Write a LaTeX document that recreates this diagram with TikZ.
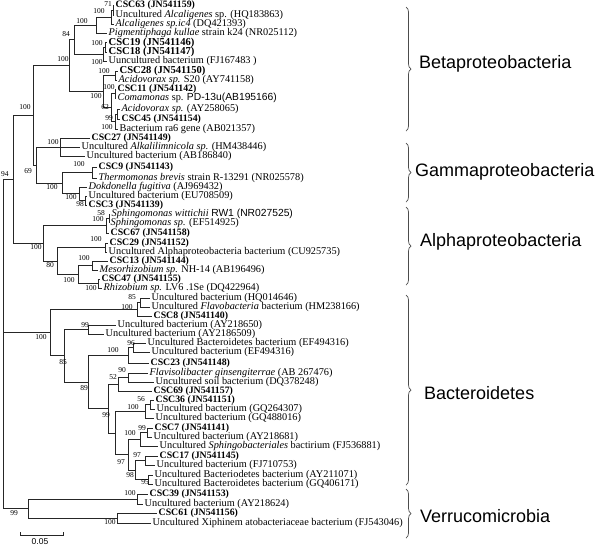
\documentclass[tikz,border=0pt]{standalone}
\usepackage{fontspec}
\setmainfont{Liberation Serif}
\setsansfont{Liberation Sans}
\usetikzlibrary{decorations.pathreplacing}
\begin{document}
\begin{tikzpicture}[x=1pt,y=-1pt,
  br/.style={line width=0.8pt, draw=black!85},
  leaf/.style={anchor=west, inner sep=0pt, xshift=1.5pt, font=\fontsize{10.3}{10}\selectfont},
  csc/.style={leaf, font=\fontsize{9.8}{10}\selectfont\bfseries},
  cscbig/.style={leaf, font=\fontsize{10.6}{11}\selectfont\bfseries},
  bs/.style={inner sep=0pt, font=\fontsize{7.5}{8}\selectfont},
  grp/.style={anchor=west, inner sep=0pt, font=\sffamily\fontsize{18}{20}\selectfont},
  grpbrace/.style={decorate, decoration={brace, amplitude=5pt}, line width=0.7pt, draw=black!70}]
\useasboundingbox[fill=white] (0,0) rectangle (600,547);

% ---------- leaves ----------
\coordinate (l1) at (114,5);    \node[csc] (t1) at (l1) {CSC63 (JN541159)};
\coordinate (l2) at (114,15);   \node[leaf] (t2) at (l2) {Uncultured \textit{Alcaligenes} sp. (HQ183863)};
\coordinate (l3) at (114,24);   \node[leaf] (t3) at (l3) {\textit{Alcaligenes sp.ic4} (DQ421393)};
\coordinate (l4) at (107,33);   \node[leaf] (t4) at (l4) {\textit{Pigmentiphaga kullae} strain k24 (NR025112)};
\coordinate (l5) at (107,42.5); \node[cscbig] (t5) at (l5) {CSC19 (JN541146)};
\coordinate (l6) at (107,52);   \node[cscbig] (t6) at (l6) {CSC18 (JN541147)};
\coordinate (l7) at (107,61);   \node[leaf] (t7) at (l7) {Uuncultured bacterium (FJ167483 )};
\coordinate (l8) at (118,71);   \node[cscbig] (t8) at (l8) {CSC28 (JN541150)};
\coordinate (l9) at (117,80);   \node[leaf] (t9) at (l9) {\textit{Acidovorax sp.} S20 (AY741158)};
\coordinate (l10) at (116,89);  \node[csc] (t10) at (l10) {CSC11 (JN541142)};
\coordinate (l11) at (116,98);  \node[leaf] (t11) at (l11) {\textit{Comamonas} sp. {\sffamily PD-13u(AB195166)}};
\coordinate (l12) at (120,109); \node[leaf] (t12) at (l12) {\textit{Acidovorax sp.} (AY258065)};
\coordinate (l13) at (120,119); \node[csc] (t13) at (l13) {CSC45 (JN541154)};
\coordinate (l14) at (118,129); \node[leaf] (t14) at (l14) {Bacterium ra6 gene (AB021357)};
\coordinate (l15) at (90,138);  \node[csc] (t15) at (l15) {CSC27 (JN541149)};
\coordinate (l16) at (80,147);  \node[leaf] (t16) at (l16) {Uncultured \textit{Alkalilimnicola sp.} (HM438446)};
\coordinate (l17) at (85,156);  \node[leaf] (t17) at (l17) {Uncultured bacterium (AB186840)};
\coordinate (l18) at (97,167);  \node[csc] (t18) at (l18) {CSC9 (JN541143)};
\coordinate (l19) at (97,178);  \node[leaf] (t19) at (l19) {\textit{Thermomonas brevis} strain R-13291 (NR025578)};
\coordinate (l20) at (87,187);  \node[leaf] (t20) at (l20) {\textit{Dokdonella fugitiva} (AJ969432)};
\coordinate (l21) at (87,196);  \node[leaf] (t21) at (l21) {Uncultured bacterium (EU708509)};
\coordinate (l22) at (87,205);  \node[csc] (t22) at (l22) {CSC3 (JN541139)};
\coordinate (l23) at (110,214); \node[leaf] (t23) at (l23) {\textit{Sphingomonas wittichii} {\sffamily RW1 (NR027525)}};
\coordinate (l24) at (109,223); \node[leaf] (t24) at (l24) {\textit{Sphingomonas sp.} (EF514925)};
\coordinate (l25) at (109,233); \node[csc] (t25) at (l25) {CSC67 (JN541158)};
\coordinate (l26) at (108,243); \node[csc] (t26) at (l26) {CSC29 (JN541152)};
\coordinate (l27) at (107,252); \node[leaf] (t27) at (l27) {Uncultured Alphaproteobacteria bacterium (CU925735)};
\coordinate (l28) at (108,261); \node[csc] (t28) at (l28) {CSC13 (JN541144)};
\coordinate (l29) at (98,270);  \node[leaf] (t29) at (l29) {\textit{Mesorhizobium sp.} NH-14 (AB196496)};
\coordinate (l30) at (100,279); \node[csc] (t30) at (l30) {CSC47 (JN541155)};
\coordinate (l31) at (102,288); \node[leaf] (t31) at (l31) {\textit{Rhizobium sp.} LV6 .1Se (DQ422964)};
\coordinate (l32) at (150,298); \node[leaf] (t32) at (l32) {Uncultured bacterium (HQ014646)};
\coordinate (l33) at (150,307); \node[leaf] (t33) at (l33) {Uncultured \textit{Flavobacteria} bacterium (HM238166)};
\coordinate (l34) at (152,316); \node[csc] (t34) at (l34) {CSC8 (JN541140)};
\coordinate (l35) at (116,325); \node[leaf] (t35) at (l35) {Uncultured bacterium (AY218650)};
\coordinate (l36) at (104,334); \node[leaf] (t36) at (l36) {Uncultured bacterium (AY2186509)};
\coordinate (l37) at (146,343); \node[leaf] (t37) at (l37) {Uncultured Bacteroidetes bacterium (EF494316)};
\coordinate (l38) at (150,352); \node[leaf] (t38) at (l38) {Uncultured bacterium (EF494316)};
\coordinate (l39) at (149,363); \node[csc] (t39) at (l39) {CSC23 (JN541148)};
\coordinate (l40) at (148,373); \node[leaf] (t40) at (l40) {\textit{Flavisolibacter ginsengiterrae} (AB 267476)};
\coordinate (l41) at (154,382); \node[leaf] (t41) at (l41) {Uncultured soil bacterium (DQ378248)};
\coordinate (l42) at (152,391); \node[csc] (t42) at (l42) {CSC69 (JN541157)};
\coordinate (l43) at (154,400); \node[csc] (t43) at (l43) {CSC36 (JN541151)};
\coordinate (l44) at (155,409); \node[leaf] (t44) at (l44) {Uncultured bacterium (GQ264307)};
\coordinate (l45) at (154,418); \node[leaf] (t45) at (l45) {Uncultured bacterium (GQ488016)};
\coordinate (l46) at (153,428); \node[csc] (t46) at (l46) {CSC7 (JN541141)};
\coordinate (l47) at (152,437); \node[leaf] (t47) at (l47) {Uncultured bacterium (AY218681)};
\coordinate (l48) at (158,446); \node[leaf] (t48) at (l48) {Uncultured \textit{Sphingobacteriales} bactirium (FJ536881)};
\coordinate (l49) at (158,456); \node[csc] (t49) at (l49) {CSC17 (JN541145)};
\coordinate (l50) at (155,465); \node[leaf] (t50) at (l50) {Uncultured bacterium (FJ710753)};
\coordinate (l51) at (153,475); \node[leaf] (t51) at (l51) {Uncultured Bacteriodetes bacterium (AY211071)};
\coordinate (l52) at (153,484); \node[leaf] (t52) at (l52) {Uncultured Bacteroidetes bacterium (GQ406171)};
\coordinate (l53) at (148,494); \node[csc] (t53) at (l53) {CSC39 (JN541153)};
\coordinate (l54) at (143,504); \node[leaf] (t54) at (l54) {Uncultured bacterium (AY218624)};
\coordinate (l55) at (157,513); \node[csc] (t55) at (l55) {CSC61 (JN541156)};
\coordinate (l56) at (151,523); \node[leaf] (t56) at (l56) {Uncultured Xiphinem atobacteriaceae bacterium (FJ543046)};

% ---------- internal nodes ----------
\coordinate (n71) at (113,10);
\coordinate (n100a1) at (111,17);
\coordinate (n100a2) at (96,25);
\coordinate (n100s1) at (105,47.25);
\coordinate (n100s) at (103,54.1);
\coordinate (n84) at (74,39.6);
\coordinate (n100x) at (115,75.5);
\coordinate (n100y) at (115,93.5);
\coordinate (n99) at (117,114);
\coordinate (n100r) at (115,121.5);
\coordinate (n62) at (111,107.5);
\coordinate (ncom) at (103,91.5);
\coordinate (n100b) at (69,65.5);
\coordinate (n100g1) at (60,147);
\coordinate (n100g2) at (92,172.5);
\coordinate (n98) at (85,200.5);
\coordinate (n100g5) at (79,193.75);
\coordinate (n100g4) at (62,183.1);
\coordinate (n69) at (36,165);
\coordinate (n100top) at (33,115.25);
\coordinate (n58) at (109,218.5);
\coordinate (n100sp) at (106,225.75);
\coordinate (n100ca) at (105,247.5);
\coordinate (n100m) at (92,265.5);
\coordinate (n100r3) at (98,283.5);
\coordinate (n100r2) at (78,274.5);
\coordinate (n80) at (57,261);
\coordinate (n100al) at (43,243.4);
\coordinate (n94) at (13,179.3);
\coordinate (n85a) at (140,302.5);
\coordinate (n100a) at (137,309.25);
\coordinate (n99b) at (88,329.5);
\coordinate (n96) at (133,347.5);
\coordinate (n100c) at (128,355.25);
\coordinate (n90) at (128,377.5);
\coordinate (n52) at (118,384.25);
\coordinate (n56) at (150,404.5);
\coordinate (n100d) at (145,411.25);
\coordinate (n99a) at (147,432.5);
\coordinate (n100e) at (140,439.25);
\coordinate (n97b) at (145,460.5);
\coordinate (n95) at (148,479.5);
\coordinate (n98b) at (135,470);
\coordinate (n97a) at (128,454.6);
\coordinate (nlow) at (115,432.9);
\coordinate (n99x) at (108,408.5);
\coordinate (n89) at (88,382);
\coordinate (n85) at (64,355.8);
\coordinate (nB) at (50,332.5);
\coordinate (n100v1) at (137,499);
\coordinate (n100v2) at (117,518);
\coordinate (nV) at (28,508.5);
\coordinate (root) at (3,343.9);

% ---------- branches ----------
\draw[br] (n71) |- (l1) (n71) |- (l2);
\draw[br] (n100a1) |- (n71) (n100a1) |- (l3);
\draw[br] (n100a2) |- (n100a1) (n100a2) |- (l4);
\draw[br] (n100s1) |- (l5) (n100s1) |- (l6);
\draw[br] (n100s) |- (n100s1) (n100s) |- (l7);
\draw[br] (n84) |- (n100a2) (n84) |- (n100s);
\draw[br] (n100x) |- (l8) (n100x) |- (l9);
\draw[br] (n100y) |- (l10) (n100y) |- (l11);
\draw[br] (n99) |- (l12) (n99) |- (l13);
\draw[br] (n100r) |- (n99) (n100r) |- (l14);
\draw[br] (n62) |- (n100y) (n62) |- (n100r);
\draw[br] (ncom) |- (n100x) (ncom) |- (n62);
\draw[br] (n100b) |- (n84) (n100b) |- (ncom);
\draw[br] (n100g1) |- (l15) (n100g1) |- (l16) (n100g1) |- (l17);
\draw[br] (n100g2) |- (l18) (n100g2) |- (l19);
\draw[br] (n98) |- (l21) (n98) |- (l22);
\draw[br] (n100g5) |- (l20) (n100g5) |- (n98);
\draw[br] (n100g4) |- (n100g2) (n100g4) |- (n100g5);
\draw[br] (n69) |- (n100g1) (n69) |- (n100g4);
\draw[br] (n100top) |- (n100b) (n100top) |- (n69);
\draw[br] (n58) |- (l23) (n58) |- (l24);
\draw[br] (n100sp) |- (n58) (n100sp) |- (l25);
\draw[br] (n100ca) |- (l26) (n100ca) |- (l27);
\draw[br] (n100m) |- (l28) (n100m) |- (l29);
\draw[br] (n100r3) |- (l30) (n100r3) |- (l31);
\draw[br] (n100r2) |- (n100m) (n100r2) |- (n100r3);
\draw[br] (n80) |- (n100ca) (n80) |- (n100r2);
\draw[br] (n100al) |- (n100sp) (n100al) |- (n80);
\draw[br] (n94) |- (n100top) (n94) |- (n100al);
\draw[br] (n85a) |- (l32) (n85a) |- (l33);
\draw[br] (n100a) |- (n85a) (n100a) |- (l34);
\draw[br] (n99b) |- (l35) (n99b) |- (l36);
\draw[br] (n96) |- (l37) (n96) |- (l38);
\draw[br] (n100c) |- (n96) (n100c) |- (l39);
\draw[br] (n90) |- (l40) (n90) |- (l41);
\draw[br] (n52) |- (n90) (n52) |- (l42);
\draw[br] (n56) |- (l43) (n56) |- (l44);
\draw[br] (n100d) |- (n56) (n100d) |- (l45);
\draw[br] (n99a) |- (l46) (n99a) |- (l47);
\draw[br] (n100e) |- (n99a) (n100e) |- (l48);
\draw[br] (n97b) |- (l49) (n97b) |- (l50);
\draw[br] (n95) |- (l51) (n95) |- (l52);
\draw[br] (n98b) |- (n97b) (n98b) |- (n95);
\draw[br] (n97a) |- (n100e) (n97a) |- (n98b);
\draw[br] (nlow) |- (n100d) (nlow) |- (n97a);
\draw[br] (n99x) |- (n52) (n99x) |- (nlow);
\draw[br] (n89) |- (n100c) (n89) |- (n99x);
\draw[br] (n85) |- (n99b) (n85) |- (n89);
\draw[br] (nB) |- (n100a) (nB) |- (n85);
\draw[br] (n100v1) |- (l53) (n100v1) |- (l54);
\draw[br] (n100v2) |- (l55) (n100v2) |- (l56);
\draw[br] (nV) |- (n100v1) (nV) |- (n100v2);
\draw[br] (root) |- (n94) (root) |- (nB) (root) |- (nV);

% ---------- bootstrap values ----------
\node[bs] (b1) at (108,4) {71};
\node[bs] (b2) at (99,11) {100};
\node[bs] (b3) at (82,21) {100};
\node[bs] (b4) at (66,34) {84};
\node[bs] (b5) at (97,43) {100};
\node[bs] (b6) at (97,62) {100};
\node[bs] (b7) at (63,59) {100};
\node[bs] (b8) at (104,71) {100};
\node[bs] (b9) at (109,87) {100};
\node[bs] (b10) at (96,96) {100};
\node[bs] (b11) at (105,107) {62};
\node[bs] (b12) at (109,118) {99};
\node[bs] (b13) at (107,127) {100};
\node[bs] (b14) at (25,107) {100};
\node[bs] (b15) at (53,142) {100};
\node[bs] (b16) at (79,164) {100};
\node[bs] (b17) at (28,171) {69};
\node[bs] (b18) at (5,174) {94};
\node[bs] (b19) at (52,187) {100};
\node[bs] (b20) at (71,197) {100};
\node[bs] (b21) at (80,204) {98};
\node[bs] (b22) at (101,213) {58};
\node[bs] (b23) at (98,219.5) {100};
\node[bs] (b24) at (96,239) {100};
\node[bs] (b25) at (36,247) {100};
\node[bs] (b26) at (84,258) {100};
\node[bs] (b27) at (50,265) {80};
\node[bs] (b28) at (69,280) {100};
\node[bs] (b29) at (91,288) {100};
\node[bs] (b30) at (132,297) {85};
\node[bs] (b31) at (127,307) {100};
\node[bs] (b32) at (85,325) {99};
\node[bs] (b33) at (41,337) {100};
\node[bs] (b34) at (131,343) {96};
\node[bs] (b35) at (113,350) {100};
\node[bs] (b36) at (63,362) {85};
\node[bs] (b37) at (122,370) {90};
\node[bs] (b38) at (113,377) {52};
\node[bs] (b39) at (84,388) {89};
\node[bs] (b40) at (141,399) {56};
\node[bs] (b41) at (133,407) {100};
\node[bs] (b42) at (106,415) {99};
\node[bs] (b43) at (142,428) {99};
\node[bs] (b44) at (130,433) {100};
\node[bs] (b45) at (137,455) {97};
\node[bs] (b46) at (121,462) {97};
\node[bs] (b47) at (130,475) {98};
\node[bs] (b48) at (145,482) {95};
\node[bs] (b49) at (130,493) {100};
\node[bs] (b50) at (14,513) {99};
\node[bs] (b51) at (110,522) {100};

% ---------- group braces and labels ----------
\coordinate (g1t) at (406,7);   \coordinate (g1b) at (406,131);
\coordinate (g2t) at (406,143); \coordinate (g2b) at (406,202);
\coordinate (g3t) at (406,207); \coordinate (g3b) at (406,285);
\coordinate (g4t) at (406,295); \coordinate (g4b) at (406,485);
\coordinate (g5t) at (406,489); \coordinate (g5b) at (406,538);
\draw[grpbrace] (g1t) -- (g1b);
\draw[grpbrace] (g2t) -- (g2b);
\draw[grpbrace] (g3t) -- (g3b);
\draw[grpbrace] (g4t) -- (g4b);
\draw[grpbrace] (g5t) -- (g5b);
\node[grp] (G1) at (419,64) {Betaproteobacteria};
\node[grp] (G2) at (415,172) {Gammaproteobacteria};
\node[grp] (G3) at (420,242) {Alphaproteobacteria};
\node[grp] (G4) at (424,393) {Bacteroidetes};
\node[grp] (G5) at (420,516) {Verrucomicrobia};

% ---------- scale bar ----------
\coordinate (s1) at (20,535); \coordinate (s2) at (63,535);
\draw[br, line width=0.7pt] ([yshift=3pt]s1) -- (s1) -- (s2) -- ([yshift=3pt]s2);
\node[inner sep=0pt, font=\sffamily\fontsize{8.5}{9}\selectfont] (sl) at (40,541.5) {0.05};
\end{tikzpicture}
\end{document}
